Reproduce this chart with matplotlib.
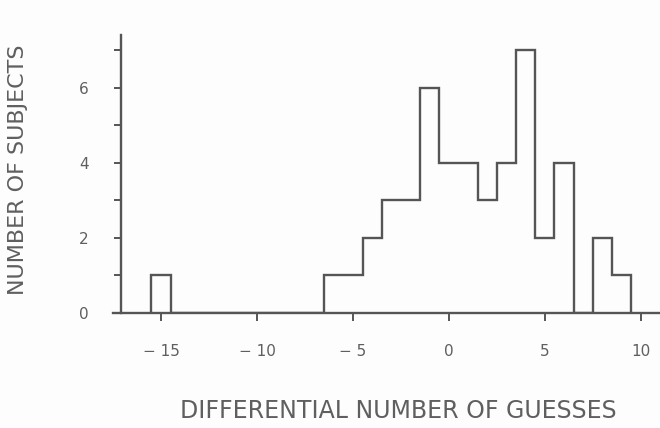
import numpy as np
import matplotlib
matplotlib.use("Agg")
import matplotlib.pyplot as plt
from matplotlib.ticker import FixedLocator

# Differential number of guesses (bin centres) and number of subjects per bin
guess_diff = [-15, -14, -13, -12, -11, -10, -9, -8, -7, -6, -5, -4, -3, -2,
              -1, 0, 1, 2, 3, 4, 5, 6, 7, 8, 9]
subjects = [1, 0, 0, 0, 0, 0, 0, 0, 0, 1, 1, 2, 3, 3,
            6, 4, 4, 3, 4, 7, 2, 4, 0, 2, 1]

x_ticks = [-15, -10, -5, 0, 5, 10]
x_tick_labels = ["\u2212 15", "\u2212 10", "\u2212 5", "0", "5", "10"]
y_ticks = [0, 1, 2, 3, 4, 5, 6, 7]
y_tick_labels = ["0", "", "2", "", "4", "", "6", ""]

ink = "#555555"
text_col = "#5f5f5f"

W, H = 660, 428
fig = plt.figure(figsize=(W / 100, H / 100), dpi=100)
fig.patch.set_facecolor("#fdfdfd")

left, right, bottom, top = 113, 660, 313, 35
ax = fig.add_axes([left / W, (H - bottom) / H, (right - left) / W, (bottom - top) / H])
ax.set_facecolor("none")

centres = np.asarray(guess_diff, dtype=float)
edges = np.concatenate([centres - 0.5, [centres[-1] + 0.5]])
ax.stairs(subjects, edges, baseline=0, fill=False, color=ink, linewidth=1.7)

ax.set_xlim(-17.5, 11.0)
ax.set_ylim(0, 7.4)

for s in ("top", "right"):
    ax.spines[s].set_visible(False)
for s in ("left", "bottom"):
    ax.spines[s].set_color(ink)
    ax.spines[s].set_linewidth(1.7)
ax.spines["left"].set_position(("data", -17.1))

ax.set_xticks(x_ticks)
ax.set_xticklabels(x_tick_labels)
ax.xaxis.set_minor_locator(FixedLocator([0]))
ax.set_yticks(y_ticks)
ax.set_yticklabels(y_tick_labels)

ax.tick_params(axis="x", which="major", direction="out", length=6, width=1.4,
               color=ink, pad=16, labelsize=11, labelcolor=text_col)
ax.tick_params(axis="x", which="minor", direction="in", length=6, width=1.4,
               color=ink)
ax.tick_params(axis="y", which="major", direction="out", length=5, width=1.4,
               color=ink, pad=18, labelsize=11, labelcolor=text_col)

fig.text(398 / W, 1 - 411 / H, "DIFFERENTIAL NUMBER OF GUESSES",
         ha="center", va="center", fontsize=17, color=text_col,
         family="DejaVu Sans")
fig.text(18 / W, 1 - 170 / H, "NUMBER OF SUBJECTS", rotation=90,
         ha="center", va="center", fontsize=16, color=text_col,
         family="DejaVu Sans")

fig.savefig("out.png", dpi=100, facecolor=fig.get_facecolor())
